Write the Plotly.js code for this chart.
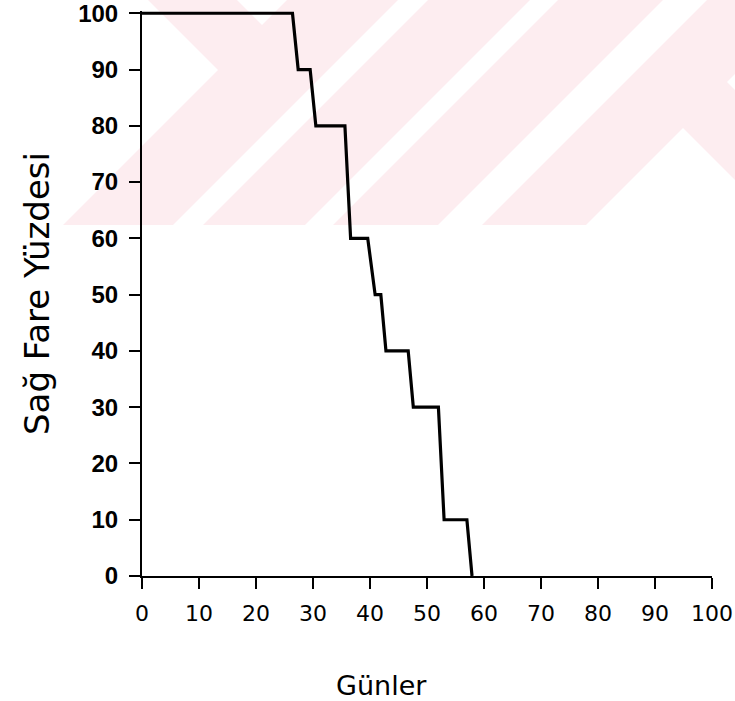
<!DOCTYPE html>
<html>
<head>
<meta charset="utf-8">
<script src="https://cdn.plot.ly/plotly-3.0.1.min.js"></script>
<style>
  html, body { margin: 0; padding: 0; background: #ffffff; }
  #chart { width: 735px; height: 701px; }
</style>
</head>
<body>
<div id="chart"></div>
<script>
// Survival curve: corner points of the steps (day, % of mice still alive)
const days = [0, 26.4, 27.4, 29.5, 30.5, 35.6, 36.6, 39.6, 40.9, 41.9, 42.8, 46.7, 47.6, 52.0, 53.0, 57.0, 57.9];
const survivingPct = [100, 100, 90, 90, 80, 80, 60, 60, 50, 50, 40, 40, 30, 30, 10, 10, 0];

// Axis ticks and titles
const xTicks = [0, 10, 20, 30, 40, 50, 60, 70, 80, 90, 100];
const yTicks = [0, 10, 20, 30, 40, 50, 60, 70, 80, 90, 100];
const xTitle = 'Günler';
const yTitle = 'Sağ Fare Yüzdesi';

const W = 735, H = 701;
const M = { l: 142, r: 23, t: 11, b: 125 };

// Pale diagonal stripe pattern behind the upper part of the page (pixel space)
const stripeColor = '#fdedf0';
const stripeBase = [[0, 0], [735, 0], [735, 225], [0, 225]];
const stripeGaps = [
  [[0, 0], [148, 0], [218, 70], [63, 225], [0, 225]],
  [[237, 0], [287, 0], [262, 25]],
  [[398, 0], [428, 0], [203, 225], [173, 225]],
  [[530, 0], [558, 0], [333, 225], [305, 225]],
  [[663, 0], [707, 0], [482, 225], [438, 225]],
  [[683, 128], [735, 180], [735, 225], [586, 225]],
  [[735, 74], [727, 82], [735, 90]]
];

function toPaperPath(pts) {
  const pw = W - M.l - M.r, ph = H - M.t - M.b;
  return pts.map((p, i) => {
    const xp = (p[0] - M.l) / pw;
    const yp = (H - M.b - p[1]) / ph;
    return (i === 0 ? 'M' : 'L') + xp.toFixed(5) + ',' + yp.toFixed(5);
  }).join(' ') + ' Z';
}

const shapes = [];
shapes.push({ type: 'path', xref: 'paper', yref: 'paper', layer: 'below',
  path: toPaperPath(stripeBase), fillcolor: stripeColor, line: { width: 0 } });
stripeGaps.forEach(g => shapes.push({ type: 'path', xref: 'paper', yref: 'paper', layer: 'below',
  path: toPaperPath(g), fillcolor: '#ffffff', line: { width: 0 } }));

const trace = {
  x: days,
  y: survivingPct,
  type: 'scatter',
  mode: 'lines',
  line: { color: '#000000', width: 3.2 },
  hoverinfo: 'skip',
  showlegend: false
};

const layout = {
  width: W,
  height: H,
  margin: M,
  paper_bgcolor: '#ffffff',
  plot_bgcolor: 'rgba(0,0,0,0)',
  showlegend: false,
  shapes: shapes,
  xaxis: {
    range: [0, 100],
    tickvals: xTicks,
    ticktext: xTicks.map(String),
    ticks: 'outside',
    ticklen: 11,
    tickwidth: 2,
    tickcolor: '#000000',
    showline: true,
    linecolor: '#000000',
    linewidth: 2,
    showgrid: false,
    zeroline: false,
    ticklabelstandoff: 6,
    ticklabeloverflow: 'allow',
    tickfont: { family: 'DejaVu Sans', size: 22, color: '#000000' },
    automargin: false,
    fixedrange: true
  },
  yaxis: {
    range: [0, 100.4],
    tickvals: yTicks,
    ticktext: yTicks.map(String),
    ticks: 'outside',
    ticklen: 11,
    tickwidth: 2,
    tickcolor: '#000000',
    showline: true,
    linecolor: '#000000',
    linewidth: 2,
    showgrid: false,
    zeroline: false,
    ticklabelstandoff: 6,
    ticklabeloverflow: 'allow',
    tickfont: { family: 'Liberation Sans', size: 24, color: '#000000', weight: 'bold' },
    title: {
      text: yTitle,
      font: { family: 'DejaVu Sans', size: 34, color: '#000000' },
      standoff: 18
    },
    automargin: 'left',
    fixedrange: true
  },
  annotations: [{
    text: xTitle,
    xref: 'paper', yref: 'paper',
    x: (381.5 - M.l) / (W - M.l - M.r),
    y: (H - M.b - 668) / (H - M.t - M.b),
    xanchor: 'center', yanchor: 'top',
    showarrow: false,
    font: { family: 'DejaVu Sans', size: 27, color: '#000000' }
  }]
};

Plotly.newPlot('chart', [trace], layout, { displayModeBar: false, staticPlot: true });
</script>
</body>
</html>
